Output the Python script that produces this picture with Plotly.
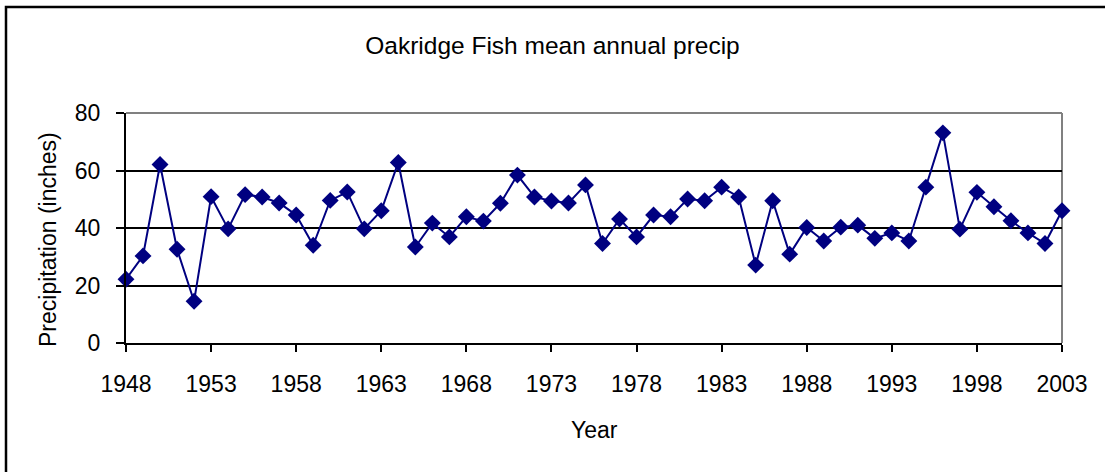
import plotly.graph_objects as go

years = list(range(1948, 2004))
precip = [22.2, 30.3, 62.1, 32.6, 14.5, 50.9, 39.7, 51.6, 50.8, 48.7,
          44.5, 34.0, 49.6, 52.5, 39.7, 46.0, 62.8, 33.4, 41.7, 36.9,
          43.9, 42.4, 48.6, 58.4, 50.8, 49.4, 48.7, 55.0, 34.6, 43.1,
          36.9, 44.5, 43.9, 50.1, 49.5, 54.2, 50.8, 27.1, 49.5, 30.9,
          40.2, 35.5, 40.3, 41.0, 36.4, 38.3, 35.5, 54.2, 73.1, 39.6,
          52.4, 47.4, 42.5, 38.3, 34.6, 46.0]
x_ticks = list(range(1948, 2004, 5))
y_ticks = [0, 20, 40, 60, 80]

title = "Oakridge Fish mean annual precip"
x_title = "Year"
y_title = "Precipitation (inches)"

FONT = "Liberation Sans, Arial, sans-serif"
NAVY = "#000080"

fig = go.Figure()
fig.add_trace(go.Scatter(
    x=years, y=precip, mode="lines+markers",
    line=dict(color=NAVY, width=2),
    marker=dict(symbol="diamond", size=13, color=NAVY),
    cliponaxis=False, showlegend=False,
))

L, R, T, B = 126, 43, 113, 129
W, H = 1105, 472
pw = W - L - R
ph = H - T - B

fig.update_layout(
    width=W, height=H,
    margin=dict(l=L, r=R, t=T, b=B, pad=0),
    paper_bgcolor="white", plot_bgcolor="white",
    font=dict(family=FONT, size=23, color="black"),
    title=dict(text=title, x=0.5, xref="container", xanchor="center",
               y=1 - 45 / H, yref="container", yanchor="middle",
               font=dict(size=24.5, family=FONT, color="black")),
)
fig.update_xaxes(
    range=[1948, 2003], tickvals=x_ticks, ticktext=[str(v) for v in x_ticks],
    showgrid=False, zeroline=False,
    showline=True, linecolor="black", linewidth=2,
    ticks="outside", ticklen=7, tickwidth=2, tickcolor="black",
    ticklabelstandoff=12,
)
fig.update_yaxes(
    range=[0, 80], tickvals=y_ticks,
    showgrid=True, gridcolor="black", gridwidth=1.5, zeroline=False,
    showline=True, linecolor="black", linewidth=2,
    ticks="outside", ticklen=8, tickwidth=2, tickcolor="black",
    ticklabelstandoff=11,
)

# gray plot border (top and right)
fig.add_shape(type="line", xref="paper", yref="paper", x0=0, x1=1, y0=1, y1=1,
              line=dict(color="#808080", width=2), layer="between")
fig.add_shape(type="line", xref="paper", yref="paper", x0=1, x1=1, y0=0, y1=1,
              line=dict(color="#808080", width=2), layer="between")
# outer chart frame
fig.add_shape(type="rect", xref="paper", yref="paper",
              x0=(6 - L) / pw, x1=(W + 10 - L) / pw,
              y0=(H - B - (H + 10)) / ph, y1=(H - B - 7) / ph,
              line=dict(color="black", width=2.5), fillcolor="rgba(0,0,0,0)",
              layer="below")

fig.add_annotation(text=y_title, xref="paper", yref="paper",
                   x=(48 - L) / pw, y=(H - B - 240) / ph, textangle=-90,
                   showarrow=False, xanchor="center", yanchor="middle",
                   font=dict(size=23))
fig.add_annotation(text=x_title, xref="paper", yref="paper",
                   x=0.5, y=(H - B - 430) / ph, showarrow=False,
                   xanchor="center", yanchor="middle", font=dict(size=23))

fig.write_html("out.html", config={"displayModeBar": False},
               post_script="document.body.style.margin='0px';")
